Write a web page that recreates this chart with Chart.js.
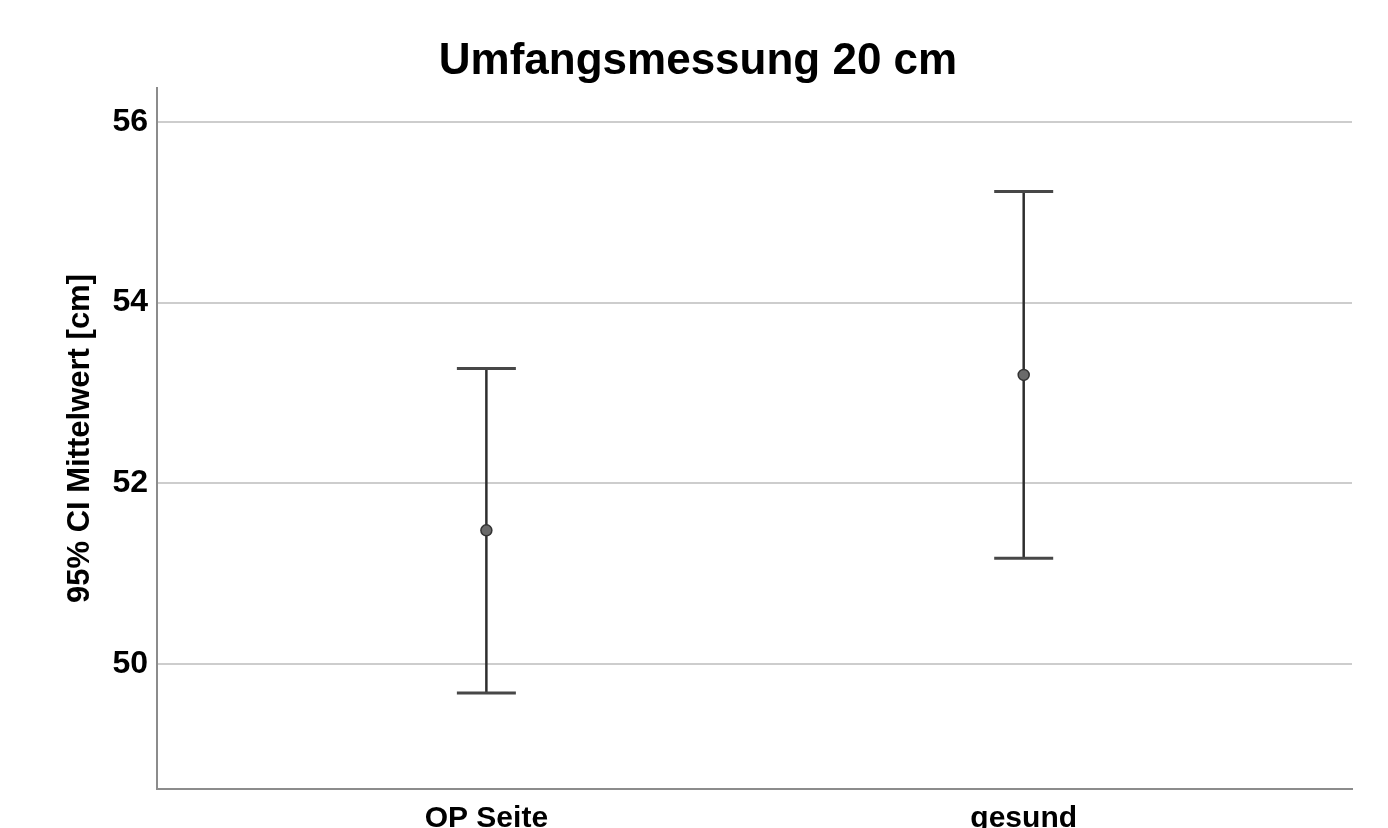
<!DOCTYPE html>
<html>
<head>
<meta charset="utf-8">
<script src="https://cdn.jsdelivr.net/npm/chart.js@4/dist/chart.umd.min.js"></script>
<style>
  html, body { margin: 0; padding: 0; background: #ffffff; }
  #wrap { width: 1388px; height: 828px; position: relative; }
</style>
</head>
<body>
<div id="wrap"><canvas id="chart"></canvas></div>
<script>
// Group labels and 95% confidence intervals of the mean circumference (cm)
const categories = ['OP Seite', 'gesund'];
const means = [51.48, 53.20];
const lowerCI = [49.68, 51.17];
const upperCI = [53.27, 55.23];
const yTicks = [50, 52, 54, 56];

const regular = "'Liberation Sans', Arial, sans-serif";

// one vertical whisker per group
const whiskerSets = categories.map((c, i) => ({
  type: 'line',
  label: c + ' CI',
  data: [{ x: i + 1, y: lowerCI[i] }, { x: i + 1, y: upperCI[i] }],
  borderColor: '#2e2e2e',
  borderWidth: 2.5,
  pointRadius: 0,
  fill: false,
  order: 3
}));

const capSet = {
  type: 'scatter',
  label: 'caps',
  data: categories.flatMap((c, i) => [{ x: i + 1, y: lowerCI[i] }, { x: i + 1, y: upperCI[i] }]),
  pointStyle: 'line',
  pointRadius: 29.5,
  borderColor: '#474747',
  borderWidth: 3,
  order: 2
};

const meanSet = {
  type: 'scatter',
  label: 'Mittelwert',
  data: categories.map((c, i) => ({ x: i + 1, y: means[i] })),
  pointStyle: 'circle',
  pointRadius: 5.5,
  backgroundColor: '#6a6a6a',
  borderColor: '#333333',
  borderWidth: 1.5,
  order: 1
};

new Chart(document.getElementById('chart'), {
  type: 'scatter',
  data: { datasets: [...whiskerSets, capSet, meanSet] },
  options: {
    responsive: true,
    maintainAspectRatio: false,
    animation: false,
    layout: { padding: { left: 22, right: 14, top: 0, bottom: 0 } },
    plugins: {
      legend: { display: false },
      tooltip: { enabled: false },
      title: {
        display: true,
        text: 'Umfangsmessung 20 cm',
        color: '#000000',
        font: { family: regular, size: 44, weight: 'bold', lineHeight: 1.2 },
        padding: { top: 35, bottom: 0.2 }
      }
    },
    scales: {
      x: {
        type: 'linear',
        min: 0.387,
        max: 2.611,
        grid: { display: false, drawTicks: false },
        border: { display: true, color: '#8c8c8c', width: 2 },
        afterBuildTicks: (scale) => { scale.ticks = categories.map((c, i) => ({ value: i + 1 })); },
        afterFit: (scale) => { scale.height = 39; },
        ticks: {
          color: '#000000',
          padding: 12,
          autoSkip: false,
          maxRotation: 0,
          font: { family: regular, size: 30, weight: 'bold' },
          callback: (v) => categories[Math.round(v) - 1] ?? ''
        }
      },
      y: {
        type: 'linear',
        position: 'left',
        min: 48.617,
        max: 56.375,
        grid: { color: '#cdcdcd', lineWidth: 2, drawTicks: false },
        border: { display: true, color: '#8c8c8c', width: 2 },
        afterBuildTicks: (scale) => { scale.ticks = yTicks.map(v => ({ value: v })); },
        afterFit: (scale) => { scale.width = 135; },
        ticks: {
          color: '#000000',
          padding: 9,
          font: { family: regular, size: 32, weight: 'bold' },
          callback: (v) => String(v)
        },
        title: {
          display: true,
          text: '95% CI Mittelwert [cm]',
          color: '#000000',
          font: { family: regular, size: 31, weight: 'bold', lineHeight: 1.2 },
          padding: { top: 40, bottom: 0 }
        }
      },
      yRight: {
        type: 'linear',
        position: 'right',
        display: true,
        min: 0,
        max: 1,
        grid: { display: false, drawTicks: false },
        border: { display: false },
        ticks: { display: false },
        afterFit: (scale) => { scale.width = 22; }
      }
    }
  }
});
</script>
</body>
</html>
